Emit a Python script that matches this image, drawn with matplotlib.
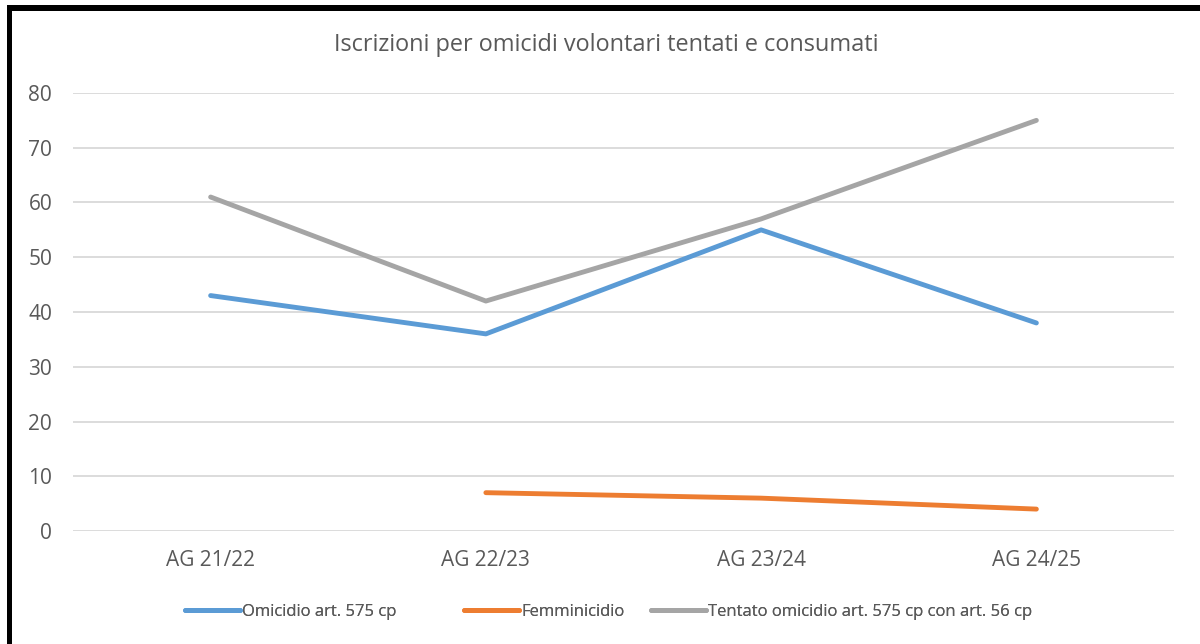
import numpy as np
import matplotlib
matplotlib.use("Agg")
import matplotlib.pyplot as plt
from matplotlib.patches import Rectangle

categories = ["AG 21/22", "AG 22/23", "AG 23/24", "AG 24/25"]
omicidio = [43, 36, 55, 38]
femminicidio = [np.nan, 7, 6, 4]
tentato = [61, 42, 57, 75]
series_names = ["Omicidio art. 575 cp", "Femminicidio", "Tentato omicidio art. 575 cp con art. 56 cp"]
yticks = [0, 10, 20, 30, 40, 50, 60, 70, 80]
title = "Iscrizioni per omicidi volontari tentati e consumati"

W, H = 1200, 644
fig = plt.figure(figsize=(W/100, H/100), dpi=100)
font = "Open Sans"
txt_col = "#595959"

ax = fig.add_axes([73/W, 1 - 531/H, (1174-73)/W, (531-93)/H])
x = np.arange(len(categories))
colors = ["#5B9BD5", "#ED7D31", "#A5A5A5"]
lines = []
for vals, name, c in zip([omicidio, femminicidio, tentato], series_names, colors):
    ln, = ax.plot(x, vals, color=c, lw=3.5, solid_capstyle="round", solid_joinstyle="round", label=name, zorder=3)
    lines.append(ln)

ax.set_xlim(-0.5, len(categories) - 0.5)
ax.set_ylim(0, 80)
ax.set_yticks(yticks)
ax.set_yticklabels([str(v) for v in yticks], fontsize=15, color=txt_col, family=font)
ax.set_xticks(x)
ax.set_xticklabels(categories, fontsize=15, color=txt_col, family=font)
ax.tick_params(axis="both", length=0)
ax.tick_params(axis="y", pad=15)
ax.tick_params(axis="x", pad=14)
ax.grid(axis="y", color="#D9D9D9", lw=1.3, zorder=0)
for s in ax.spines.values():
    s.set_visible(False)

fig.text(606/W, 1 - 45/H, title, ha="center", va="center", fontsize=16.9, color=txt_col, family=font)

# legend entries placed individually (Excel-style uneven spacing)
leg_x = [185, 464, 651]
for ln, lx in zip(lines, leg_x):
    lg = fig.legend([ln], [ln.get_label()], loc="center left", bbox_to_anchor=(lx/W, 1 - 612/H),
                    frameon=False, prop={"family": font, "size": 12}, handlelength=3.3,
                    handletextpad=0.15, borderpad=0, borderaxespad=0, labelcolor=txt_col)
    fig.add_artist(lg)

# border (left and top)
fig.add_artist(Rectangle((7/W, 0), 5/W, 1 - 5/H, transform=fig.transFigure, color="black", lw=0))
fig.add_artist(Rectangle((7/W, 1 - 11/H), 1 - 7/W, 6/H, transform=fig.transFigure, color="black", lw=0))

fig.savefig("out.png", dpi=100)
